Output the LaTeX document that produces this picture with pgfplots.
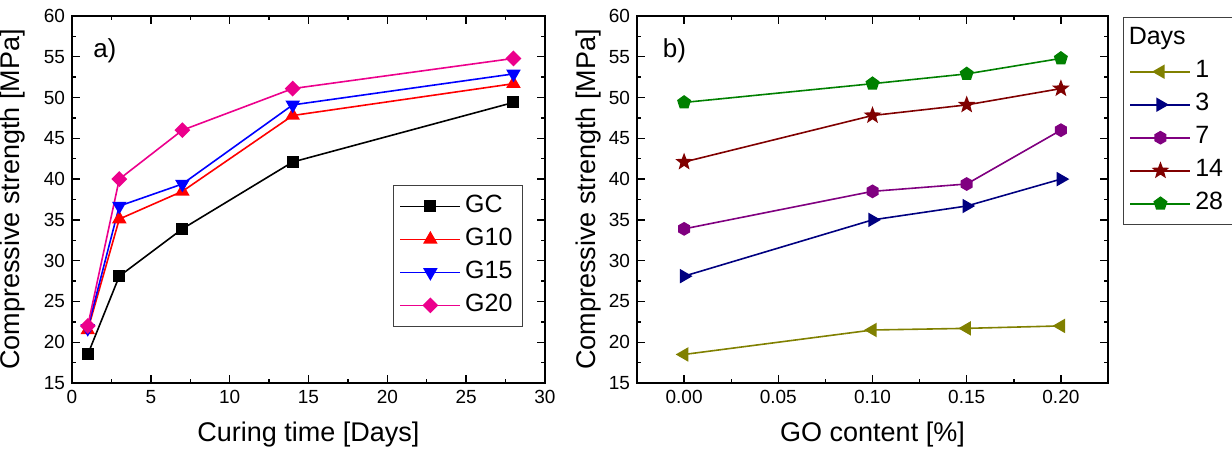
\documentclass[border=0pt]{standalone}
\usepackage{fontspec}
\setmainfont{Liberation Sans}
\usepackage{pgfplots}
\pgfplotsset{compat=1.18}

\definecolor{cOlive}{RGB}{128,128,0}
\definecolor{cNavy}{RGB}{0,0,128}
\definecolor{cPurple}{RGB}{128,0,128}
\definecolor{cDarkRed}{RGB}{128,0,0}
\definecolor{cGreen}{RGB}{0,128,0}

% filled hexagon mark for the 7-day series
\pgfdeclareplotmark{hexagon*}{%
  \pgfpathmoveto{\pgfqpointpolar{90}{\pgfplotmarksize}}%
  \pgfpathlineto{\pgfqpointpolar{150}{\pgfplotmarksize}}%
  \pgfpathlineto{\pgfqpointpolar{210}{\pgfplotmarksize}}%
  \pgfpathlineto{\pgfqpointpolar{270}{\pgfplotmarksize}}%
  \pgfpathlineto{\pgfqpointpolar{330}{\pgfplotmarksize}}%
  \pgfpathlineto{\pgfqpointpolar{30}{\pgfplotmarksize}}%
  \pgfpathclose
  \pgfusepathqfillstroke}
% filled five-point star for the 14-day series
\pgfdeclareplotmark{fstar*}{%
  \pgfpathmoveto{\pgfqpointpolar{90}{\pgfplotmarksize}}%
  \pgfpathlineto{\pgfqpointpolar{126}{0.42\pgfplotmarksize}}%
  \pgfpathlineto{\pgfqpointpolar{162}{\pgfplotmarksize}}%
  \pgfpathlineto{\pgfqpointpolar{198}{0.42\pgfplotmarksize}}%
  \pgfpathlineto{\pgfqpointpolar{234}{\pgfplotmarksize}}%
  \pgfpathlineto{\pgfqpointpolar{270}{0.42\pgfplotmarksize}}%
  \pgfpathlineto{\pgfqpointpolar{306}{\pgfplotmarksize}}%
  \pgfpathlineto{\pgfqpointpolar{342}{0.42\pgfplotmarksize}}%
  \pgfpathlineto{\pgfqpointpolar{18}{\pgfplotmarksize}}%
  \pgfpathlineto{\pgfqpointpolar{54}{0.42\pgfplotmarksize}}%
  \pgfpathclose
  \pgfusepathqfillstroke}

\pgfplotsset{
  panel/.style={
    scale only axis, height=183.5pt,
    ymin=15, ymax=60, ytick={15,20,...,60}, minor y tick num=1,
    axis line style={line width=0.8pt},
    tick style={black, line width=0.7pt},
    major tick length=4pt, minor tick length=2pt,
    tick label style={font=\fontsize{9.5}{9.5}\selectfont},
    /pgf/number format/assume math mode=true,
    every axis x label/.style={at={(axis description cs:0.5,-0.16)}, anchor=base,
      font=\fontsize{13.5}{13.5}\selectfont},
    every axis y label/.style={at={(axis description cs:-0.110,0.5)}, rotate=90, anchor=base,
      font=\fontsize{13.5}{13.5}\selectfont},
    ylabel={Compressive strength [MPa]},
    legend cell align=left,
    legend style={draw=black!75, line width=0.6pt, font=\fontsize{12.5}{12.5}\selectfont,
      inner sep=3pt, row sep=1.5pt,
      nodes={inner sep=2pt, text height=8.5pt, text depth=2.5pt}},
    legend image code/.code={\draw[mark repeat=2,mark phase=2]
      plot coordinates {(0pt,0pt) (15pt,0pt) (30pt,0pt)};},
    every axis plot/.append style={line width=0.8pt, mark options={solid}},
  },
}

\begin{document}
\begin{tikzpicture}
\useasboundingbox (0,0) rectangle (616pt,225pt);

\begin{axis}[panel,
  at={(36pt,33.5pt)}, anchor=south west, width=236.5pt,
  xmin=0, xmax=30, xtick={0,5,...,30}, minor x tick num=1,
  xlabel={Curing time [Days]},
  legend style={at={(axis description cs:0.9535,0.1526)}, anchor=south east},
]
\addplot[black, mark=square*, mark size=2.6pt] coordinates {
  (1,18.5) (3,28.1) (7,33.9) (14,42.1) (28,49.4)};
\addlegendentry{GC}
\addplot[red, mark=triangle*, mark size=3.4pt] coordinates {
  (1,21.5) (3,35.1) (7,38.5) (14,47.8) (28,51.7)};
\addlegendentry{G10}
\addplot[blue, mark=triangle*, mark size=3.4pt, mark options={rotate=180}] coordinates {
  (1,21.7) (3,36.7) (7,39.4) (14,49.1) (28,52.9)};
\addlegendentry{G15}
\addplot[magenta, mark=square*, mark size=2.4pt, mark options={rotate=45}] coordinates {
  (1,22.0) (3,40.0) (7,46.0) (14,51.1) (28,54.8)};
\addlegendentry{G20}
\node[anchor=base west, font=\fontsize{13}{13}\selectfont]
  at (axis description cs:0.03,0.888) {a)};
\end{axis}

\begin{axis}[panel,
  at={(318.5pt,33.5pt)}, anchor=south west, width=235.5pt,
  xmin=-0.025, xmax=0.225, xtick={0,0.05,...,0.2}, minor x tick num=1,
  xticklabel style={/pgf/number format/.cd, fixed, fixed zerofill, precision=2},
  xlabel={GO content [\%]},
  every axis y label/.style={at={(axis description cs:-0.089,0.5)}, rotate=90, anchor=base,
    font=\fontsize{13.5}{13.5}\selectfont},
  legend style={at={(axis description cs:1.032,0.997)}, anchor=north west},
]
\addlegendimage{empty legend}
\addlegendentry{\hspace{-35pt}Days}
\addplot[cOlive, mark=triangle*, mark size=3.4pt, mark options={rotate=90}] coordinates {
  (0,18.5) (0.10,21.5) (0.15,21.7) (0.20,22.0)};
\addlegendentry{1}
\addplot[cNavy, mark=triangle*, mark size=3.4pt, mark options={rotate=-90}] coordinates {
  (0,28.1) (0.10,35.0) (0.15,36.7) (0.20,40.0)};
\addlegendentry{3}
\addplot[cPurple, mark=hexagon*, mark size=3pt] coordinates {
  (0,33.9) (0.10,38.5) (0.15,39.4) (0.20,46.0)};
\addlegendentry{7}
\addplot[cDarkRed, mark=fstar*, mark size=3.5pt] coordinates {
  (0,42.1) (0.10,47.8) (0.15,49.1) (0.20,51.1)};
\addlegendentry{14}
\addplot[cGreen, mark=pentagon*, mark size=3.2pt] coordinates {
  (0,49.4) (0.10,51.7) (0.15,52.9) (0.20,54.8)};
\addlegendentry{28}
\node[anchor=base west, font=\fontsize{13}{13}\selectfont]
  at (axis description cs:0.04,0.888) {b)};
\end{axis}
\end{tikzpicture}
\end{document}
